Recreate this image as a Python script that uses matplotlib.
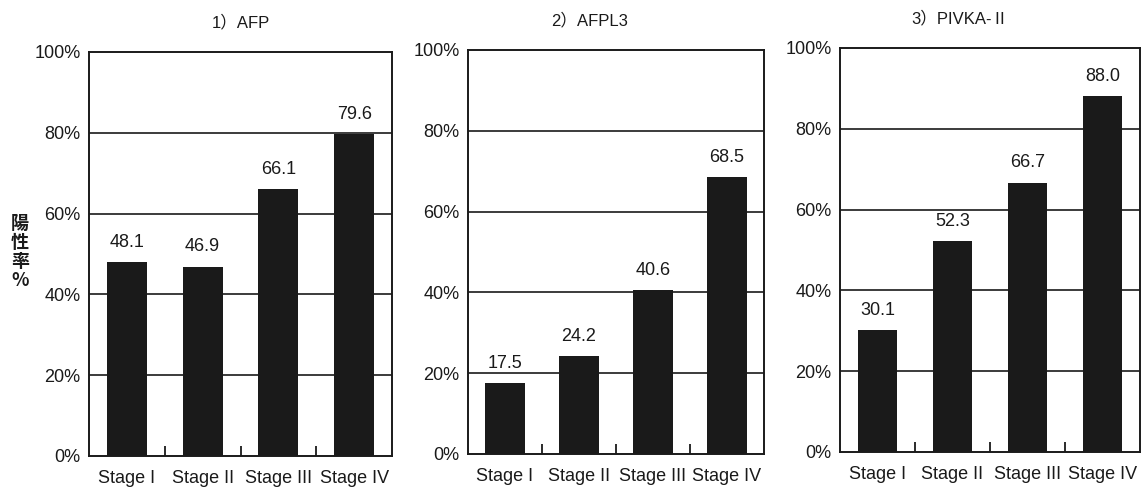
import matplotlib
matplotlib.use("Agg")
import matplotlib.pyplot as plt
from matplotlib.ticker import FuncFormatter

# Positive rate (%) by stage for each tumour marker
stages = ["Stage I", "Stage II", "Stage III", "Stage IV"]
afp = [48.1, 46.9, 66.1, 79.6]
afpl3 = [17.5, 24.2, 40.6, 68.5]
pivka = [30.1, 52.3, 66.7, 88.0]
titles = ["1）AFP", "2）AFPL3", "3）PIVKA-Ⅱ"]
yticks = [0, 20, 40, 60, 80, 100]

FAMILY = ["Liberation Sans", "Noto Sans CJK JP", "DejaVu Sans"]
plt.rcParams["font.family"] = FAMILY

INK = "#1a1a1a"
fig = plt.figure(figsize=(11.43, 4.92), dpi=100)

# axes boxes in figure pixels: left, right, top(100%), bottom(0%)
boxes = [(89, 392, 52, 456), (468, 764, 50, 454), (840, 1140, 48, 452)]
title_x = [0.5, 0.41, 0.40]
W, H = 1143.0, 492.0

for (l, r, t, b), vals, title, tx in zip(boxes, [afp, afpl3, pivka], titles, title_x):
    ax = fig.add_axes([l / W, 1 - b / H, (r - l) / W, (b - t) / H])
    x = range(len(stages))
    ax.set_xlim(-0.5, len(stages) - 0.5)
    ax.set_ylim(0, 100)
    for yv in yticks[1:-1]:
        ax.axhline(yv, color=INK, lw=1.2, zorder=1)
    bars = ax.bar(x, vals, width=0.53, color=INK, zorder=2)
    for rect, v in zip(bars, vals):
        ax.annotate(f"{v:.1f}", (rect.get_x() + rect.get_width() / 2, v),
                    xytext=(0, 8), textcoords="offset points",
                    ha="center", va="bottom", fontsize=13, color=INK)
    for sp in ax.spines.values():
        sp.set_linewidth(1.4)
        sp.set_color(INK)
    ax.set_yticks(yticks)
    ax.yaxis.set_major_formatter(FuncFormatter(lambda v, p: f"{v:.0f}%"))
    ax.set_xticks(list(x))
    ax.set_xticklabels(stages)
    ax.set_xticks([0.5, 1.5, 2.5], minor=True)
    ax.tick_params(axis="y", length=0, pad=6, labelsize=13, labelcolor=INK)
    ax.tick_params(axis="x", which="major", length=0, pad=10, labelsize=13,
                   labelcolor=INK)
    ax.tick_params(axis="x", which="minor", direction="in", length=7,
                   width=1.3, color=INK)
    ax.text(tx, 1 + 30 / (b - t), title, transform=ax.transAxes,
            ha="center", va="center", fontsize=12, color=INK)

fig.text(20 / W, 1 - 252 / H, "陽\n性\n率\n%", ha="center", va="center",
         fontsize=13, fontweight="bold", linespacing=1.0, color=INK,
         family=["Noto Sans CJK JP", "DejaVu Sans"])

fig.savefig("out.png", dpi=100, facecolor="white")
